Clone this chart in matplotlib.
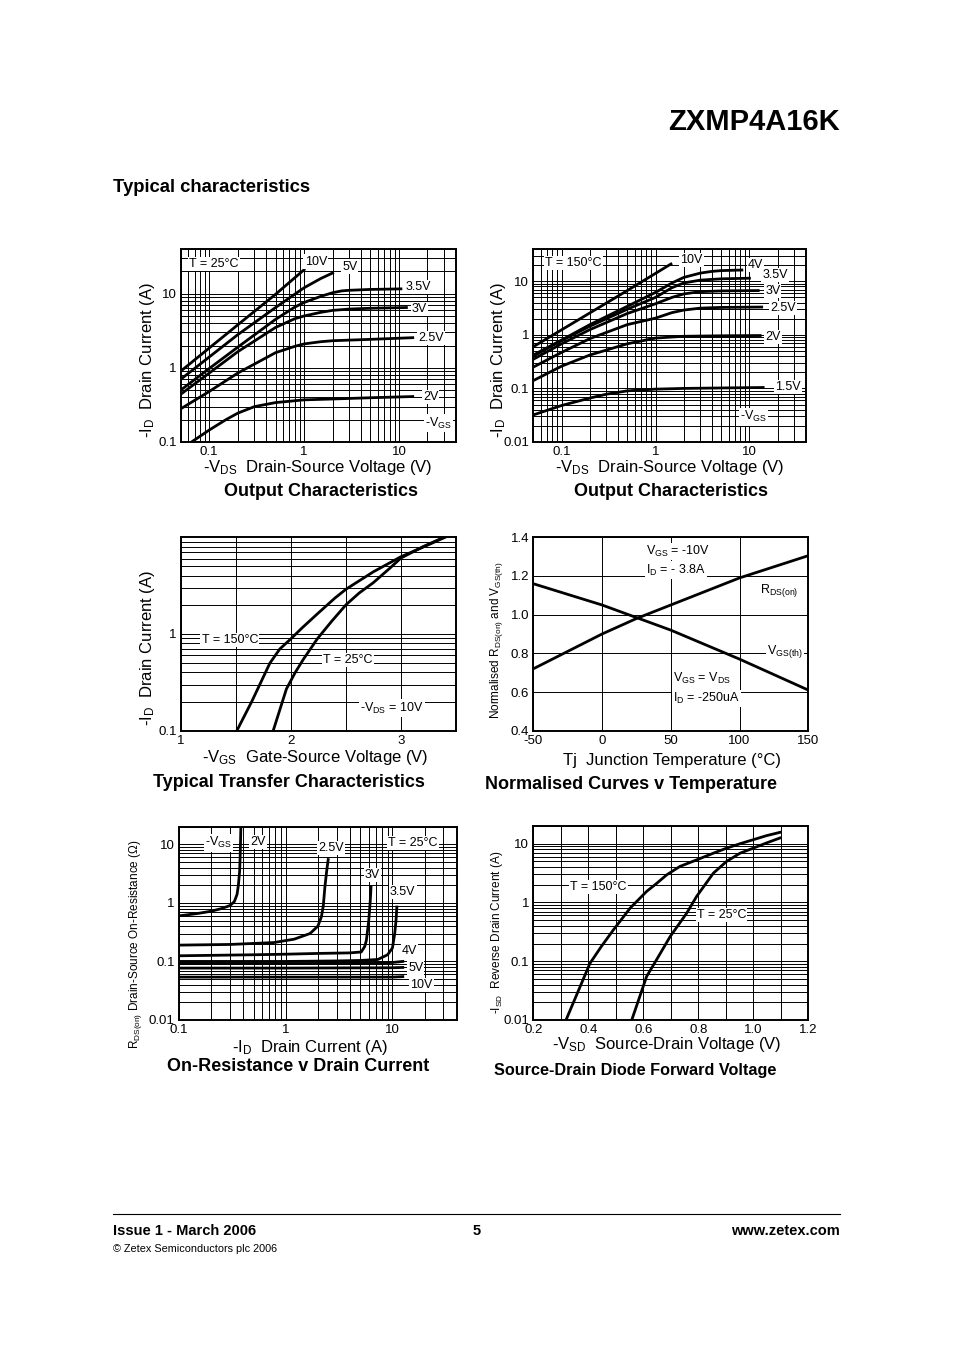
import numpy as np
import matplotlib
matplotlib.use('Agg')
import matplotlib.pyplot as plt
from matplotlib.ticker import LogLocator, NullFormatter
from matplotlib.lines import Line2D

plt.rcParams['font.family'] = ['Liberation Sans', 'DejaVu Sans']
plt.rcParams['mathtext.fontset'] = 'custom'
plt.rcParams['mathtext.rm'] = 'Liberation Sans'
plt.rcParams['mathtext.it'] = 'Liberation Sans:italic'
plt.rcParams['mathtext.bf'] = 'Liberation Sans:bold'

# ---- Output characteristics, T = 25C  (-VDS [V], -ID [A]) ----
out25 = {
    '10V':  ([0.05, 0.1, 0.2, 0.5, 1.0], [0.9, 1.85, 3.8, 9.8, 21]),
    '5V':   ([0.05, 0.1, 0.2, 0.5, 1, 1.5, 2], [0.7, 1.4, 2.8, 6.5, 12, 16, 19]),
    '3.5V': ([0.05, 0.1, 0.2, 0.5, 0.8, 1, 1.5, 2, 2.5, 3, 5, 10.5],
             [0.5, 0.98, 1.9, 4.5, 6.6, 7.6, 9.2, 10.3, 10.9, 11.1, 11.4, 11.6]),
    '3V':   ([0.05, 0.1, 0.2, 0.5, 0.8, 1, 1.5, 2, 3, 5, 12],
             [0.44, 0.85, 1.65, 3.5, 4.6, 5.0, 5.6, 5.95, 6.2, 6.35, 6.5]),
    '2.5V': ([0.05, 0.1, 0.2, 0.5, 0.8, 1, 1.5, 2, 5, 14],
             [0.28, 0.48, 0.85, 1.6, 1.95, 2.1, 2.25, 2.32, 2.42, 2.55]),
    '2V':   ([0.065, 0.1, 0.15, 0.2, 0.3, 0.5, 0.8, 1, 2, 5, 14],
             [0.1, 0.145, 0.2, 0.245, 0.3, 0.34, 0.36, 0.37, 0.38, 0.395, 0.41]),
}

# ---- Output characteristics, T = 150C ----
out150 = {
    '10V':  ([0.05, 0.1, 0.5, 1.46], [0.6, 1.24, 6.7, 21]),
    '4V':   ([0.05, 0.1, 0.2, 0.5, 1, 1.5, 2, 3, 4, 5, 8.3],
             [0.42, 0.8, 1.55, 3.4, 6.2, 9.3, 11.8, 14.2, 15.3, 15.8, 16.2]),
    '3.5V': ([0.05, 0.1, 0.2, 0.5, 1, 1.5, 2, 3, 5, 10],
             [0.40, 0.78, 1.45, 3.0, 5.0, 7.6, 9.3, 10.5, 11.1, 11.4]),
    '3V':   ([0.05, 0.1, 0.2, 0.5, 1, 1.5, 2, 3, 5, 12.4],
             [0.35, 0.68, 1.25, 2.5, 3.8, 5.0, 5.8, 6.4, 6.6, 6.7]),
    '2.5V': ([0.05, 0.1, 0.2, 0.5, 1, 1.5, 2, 3, 5, 13.5],
             [0.25, 0.47, 0.85, 1.55, 2.05, 2.6, 2.9, 3.15, 3.25, 3.3]),
    '2V':   ([0.05, 0.1, 0.2, 0.5, 1, 2, 5, 13],
             [0.14, 0.26, 0.42, 0.68, 0.87, 0.94, 0.96, 0.97]),
    '1.5V': ([0.05, 0.1, 0.2, 0.3, 0.5, 1, 2, 5, 14],
             [0.032, 0.048, 0.066, 0.078, 0.09, 0.097, 0.1, 0.102, 0.104]),
}

# ---- Transfer characteristics (-VGS [V], -ID [A]) ----
vgs_150 = [1.51, 1.645, 1.81, 1.9, 2.0, 2.1, 2.25, 2.4, 2.5, 2.75, 3.0, 3.2, 3.4]
id_150 = [0.1, 0.2, 0.5, 0.7, 0.89, 1.15, 1.65, 2.35, 2.9, 4.4, 6.3, 7.9, 10]
vgs_25 = [1.84, 1.96, 2.04, 2.115, 2.24, 2.37, 2.5, 2.62, 2.75, 2.9, 3.0, 3.2, 3.39]
id_25 = [0.1, 0.27, 0.4, 0.55, 0.89, 1.35, 2.0, 2.65, 3.4, 4.8, 6.1, 8.0, 10]

# ---- Normalised curves v temperature ----
tj = [-50, 0, 25, 50, 100, 150]
rds_norm = [0.72, 0.90, 0.98, 1.05, 1.19, 1.305]
vth_norm = [1.16, 1.05, 0.985, 0.92, 0.77, 0.61]

# ---- On-resistance v drain current (-ID [A], RDS(on) [ohm]) ----
ron = {
    '2V':   ([0.1, 0.15, 0.2, 0.25, 0.3, 0.33, 0.35, 0.36, 0.37, 0.375, 0.38],
             [0.6, 0.66, 0.72, 0.8, 0.9, 1.05, 1.4, 2.0, 3.5, 7, 20]),
    '2.5V': ([0.1, 0.3, 0.77, 1.2, 1.69, 2.0, 2.16, 2.25, 2.33, 2.42, 2.5],
             [0.19, 0.195, 0.21, 0.24, 0.3, 0.4, 0.58, 0.9, 1.9, 3.5, 5.5]),
    '3V':   ([0.1, 0.5, 1, 2, 4, 5.1, 5.5, 5.7, 6.0, 6.2, 6.3],
             [0.125, 0.13, 0.133, 0.137, 0.14, 0.145, 0.18, 0.23, 0.5, 1.1, 1.9]),
    '3.5V': ([0.1, 1, 3, 5, 7.3, 9, 10, 10.5, 10.8, 11],
             [0.1, 0.1, 0.102, 0.104, 0.108, 0.13, 0.17, 0.3, 0.5, 0.85]),
    '4V':   ([0.1, 1, 5, 10, 12.5], [0.092, 0.092, 0.093, 0.096, 0.1]),
    '5V':   ([0.1, 1, 10, 12.5], [0.077, 0.077, 0.078, 0.079]),
    '10V':  ([0.1, 1, 10, 12.5], [0.054, 0.054, 0.054, 0.055]),
}

# ---- Source-drain diode forward voltage (-VSD [V], -ISD [A]) ----
vsd_150 = [0.319, 0.406, 0.448, 0.491, 0.552, 0.612, 0.648, 0.685, 0.733, 0.794,
           0.855, 0.903, 0.952, 1.0, 1.048, 1.097]
isd_150 = [0.01, 0.092, 0.18, 0.34, 0.8, 1.54, 2.1, 2.95, 4.1, 5.3,
           6.9, 8.4, 10, 11.7, 13.7, 15.6]
vsd_25 = [0.558, 0.612, 0.655, 0.697, 0.758, 0.794, 0.855, 0.903, 0.952, 1.0, 1.048, 1.097]
isd_25 = [0.01, 0.055, 0.12, 0.26, 0.66, 1.27, 3.16, 5.0, 6.9, 8.4, 10.3, 12.5]

dec_ticks = [0.01, 0.1, 1, 10]
dec_labels = ['0.01', '0.1', '1', '10']

W, H = 954, 1351
fig = plt.figure(figsize=(W / 100, H / 100), dpi=100)


def make_axes(x0, y0, x1, y1):
    return fig.add_axes([x0 / W, 1 - y1 / H, (x1 - x0) / W, (y1 - y0) / H])


def style(ax, size=9.5):
    for s in ax.spines.values():
        s.set_linewidth(1.4)
    ax.tick_params(which='both', direction='in', length=0, labelsize=size, pad=3)
    ax.grid(True, which='both', color='black', lw=0.7)
    ax.set_axisbelow(True)


def logaxis(axis):
    axis.set_minor_locator(LogLocator(base=10, subs=np.arange(2, 10), numticks=20))
    axis.set_minor_formatter(NullFormatter())


def lab(ax, x, y, s, size=9, **kw):
    ax.text(x, y, s, transform=ax.transAxes, fontsize=size, ha='left', va='center',
            bbox=dict(facecolor='white', edgecolor='none', pad=0.8), zorder=5, **kw)


def axtext(ax, x, y, s, size=12, **kw):
    ax.text(x, y, s, transform=ax.transAxes, fontsize=size, ha='center', va='center', **kw)


def curve(ax, x, y):
    ax.plot(x, y, color='black', lw=2.0, zorder=3)


# ---------- chart 1 ----------
ax1 = make_axes(180.7, 249, 456, 442)
ax1.set_xscale('log'); ax1.set_yscale('log')
ax1.set_xlim(0.05, 40); ax1.set_ylim(0.1, 40)
ax1.set_xticks(dec_ticks[1:], dec_labels[1:])
ax1.set_yticks(dec_ticks[1:], dec_labels[1:])
logaxis(ax1.xaxis); logaxis(ax1.yaxis)
style(ax1)
for k, (x, y) in out25.items():
    curve(ax1, x, y)
lab(ax1, 0.03, 0.922, 'T = 25°C')
for s, px, py in [('10V', 0.45, 0.935), ('5V', 0.586, 0.909), ('3.5V', 0.815, 0.803),
                  ('3V', 0.84, 0.689), ('2.5V', 0.862, 0.539), ('2V', 0.88, 0.233)]:
    lab(ax1, px, py, s)
lab(ax1, 0.887, 0.098, r'-V$_{\mathrm{GS}}$')
axtext(ax1, -0.119, 0.425, r'-I$_{\mathrm{D}}$  Drain Current (A)', rotation=90)
axtext(ax1, 0.499, -0.13, r'-V$_{\mathrm{DS}}$  Drain-Source Voltage (V)')
axtext(ax1, 0.51, -0.259, 'Output Characteristics', size=13, weight='bold')

# ---------- chart 2 ----------
ax2 = make_axes(533.3, 249, 806, 442)
ax2.set_xscale('log'); ax2.set_yscale('log')
ax2.set_xlim(0.05, 40); ax2.set_ylim(0.01, 40)
ax2.set_xticks(dec_ticks[1:], dec_labels[1:])
ax2.set_yticks(dec_ticks, dec_labels)
logaxis(ax2.xaxis); logaxis(ax2.yaxis)
style(ax2)
for k, (x, y) in out150.items():
    curve(ax2, x, y)
lab(ax2, 0.043, 0.927, 'T = 150°C')
for s, px, py in [('10V', 0.538, 0.943), ('4V', 0.787, 0.917), ('3.5V', 0.839, 0.865),
                  ('3V', 0.85, 0.782), ('2.5V', 0.868, 0.694), ('2V', 0.85, 0.544),
                  ('1.5V', 0.887, 0.285)]:
    lab(ax2, px, py, s)
lab(ax2, 0.758, 0.13, r'-V$_{\mathrm{GS}}$')
axtext(ax2, -0.129, 0.425, r'-I$_{\mathrm{D}}$  Drain Current (A)', rotation=90)
axtext(ax2, 0.501, -0.13, r'-V$_{\mathrm{DS}}$  Drain-Source Voltage (V)')
axtext(ax2, 0.506, -0.259, 'Output Characteristics', size=13, weight='bold')

# ---------- chart 3 ----------
ax3 = make_axes(180.7, 537.3, 456, 730.7)
ax3.set_yscale('log')
ax3.set_xlim(1, 3.5); ax3.set_ylim(0.1, 10)
ax3.set_xticks([1, 2, 3], ['1', '2', '3'])
ax3.set_xticks([1.5, 2.5], minor=True)
ax3.set_yticks([0.1, 1], ['0.1', '1'])
logaxis(ax3.yaxis)
style(ax3)
curve(ax3, vgs_150, id_150)
curve(ax3, vgs_25, id_25)
lab(ax3, 0.076, 0.469, 'T = 150°C')
lab(ax3, 0.517, 0.365, 'T = 25°C')
lab(ax3, 0.651, 0.117, r'-V$_{\mathrm{DS}}$ = 10V')
axtext(ax3, -0.119, 0.43, r'-I$_{\mathrm{D}}$  Drain Current (A)', rotation=90)
axtext(ax3, 0.49, -0.141, r'-V$_{\mathrm{GS}}$  Gate-Source Voltage (V)')
axtext(ax3, 0.394, -0.27, 'Typical Transfer Characteristics', size=13, weight='bold')

# ---------- chart 4 ----------
ax4 = make_axes(533.3, 537.3, 808.3, 730.7)
ax4.set_xlim(-50, 150); ax4.set_ylim(0.4, 1.4)
ax4.set_xticks([-50, 0, 50, 100, 150], ['-50', '0', '50', '100', '150'])
ax4.set_yticks([0.4, 0.6, 0.8, 1.0, 1.2, 1.4], ['0.4', '0.6', '0.8', '1.0', '1.2', '1.4'])
style(ax4, size=9.5)
curve(ax4, tj, rds_norm)
curve(ax4, tj, vth_norm)
lab(ax4, 0.41, 0.926, r'V$_{\mathrm{GS}}$ = -10V')
lab(ax4, 0.41, 0.831, r'I$_{\mathrm{D}}$ = - 3.8A')
lab(ax4, 0.824, 0.727, r'R$_{\mathrm{DS(on)}}$')
lab(ax4, 0.849, 0.408, r'V$_{\mathrm{GS(th)}}$')
lab(ax4, 0.509, 0.271, r'V$_{\mathrm{GS}}$ = V$_{\mathrm{DS}}$')
lab(ax4, 0.509, 0.168, r'I$_{\mathrm{D}}$ = -250uA')
axtext(ax4, -0.132, 0.469, r'Normalised R$_{\mathrm{DS(on)}}$ and V$_{\mathrm{GS(th)}}$',
       size=8.5, rotation=90)
axtext(ax4, 0.503, -0.152, 'Tj  Junction Temperature (°C)')
axtext(ax4, 0.355, -0.276, 'Normalised Curves v Temperature', size=13, weight='bold')

# ---------- chart 5 ----------
ax5 = make_axes(179, 826.7, 456.7, 1020)
ax5.set_xscale('log'); ax5.set_yscale('log')
ax5.set_xlim(0.1, 40); ax5.set_ylim(0.01, 20)
ax5.set_xticks(dec_ticks[1:], dec_labels[1:])
ax5.set_yticks(dec_ticks, dec_labels)
logaxis(ax5.xaxis); logaxis(ax5.yaxis)
style(ax5, size=9.5)
for k, (x, y) in ron.items():
    curve(ax5, x, y)
lab(ax5, 0.094, 0.916, r'-V$_{\mathrm{GS}}$')
for s, px, py in [('2V', 0.256, 0.921), ('2.5V', 0.50, 0.89), ('3V', 0.67, 0.75),
                  ('3.5V', 0.76, 0.662), ('4V', 0.803, 0.357), ('5V', 0.825, 0.269),
                  ('10V', 0.832, 0.181)]:
    lab(ax5, px, py, s)
lab(ax5, 0.753, 0.916, 'T = 25°C')
axtext(ax5, -0.158, 0.393, r'R$_{\mathrm{DS(on)}}$ Drain-Source On-Resistance (Ω)',
       size=8.5, rotation=90)
axtext(ax5, 0.472, -0.14, r'-I$_{\mathrm{D}}$  Drain Current (A)')
axtext(ax5, 0.428, -0.243, 'On-Resistance v Drain Current', size=13, weight='bold')

# ---------- chart 6 ----------
ax6 = make_axes(533.3, 826, 808.3, 1020)
ax6.set_yscale('log')
ax6.set_xlim(0.2, 1.2); ax6.set_ylim(0.01, 20)
ax6.set_xticks([0.2, 0.4, 0.6, 0.8, 1.0, 1.2], ['0.2', '0.4', '0.6', '0.8', '1.0', '1.2'])
ax6.set_xticks([0.3, 0.5, 0.7, 0.9, 1.1], minor=True)
ax6.set_yticks(dec_ticks, dec_labels)
logaxis(ax6.yaxis)
style(ax6, size=9.5)
curve(ax6, vsd_150, isd_150)
curve(ax6, vsd_25, isd_25)
lab(ax6, 0.134, 0.687, 'T = 150°C')
lab(ax6, 0.594, 0.541, 'T = 25°C')
axtext(ax6, -0.132, 0.454, r'-I$_{\mathrm{SD}}$  Reverse Drain Current (A)',
       size=8.5, rotation=90)
axtext(ax6, 0.485, -0.124, r'-V$_{\mathrm{SD}}$  Source-Drain Voltage (V)')
axtext(ax6, 0.37, -0.258, 'Source-Drain Diode Forward Voltage', size=11.7, weight='bold')

# ---------- page text ----------
fig.text(840 / W, 1 - 122 / H, 'ZXMP4A16K', ha='right', va='center',
         fontsize=21, weight='bold')
fig.text(113 / W, 1 - 188 / H, 'Typical characteristics', ha='left', va='center',
         fontsize=13.3, weight='bold')
fig.add_artist(Line2D([113 / W, 840 / W], [1 - 1214 / H] * 2, color='black', lw=0.8))
fig.text(113 / W, 1 - 1231 / H, 'Issue 1 - March 2006', ha='left', va='center',
         fontsize=10.5, weight='bold')
fig.text(477 / W, 1 - 1231 / H, '5', ha='center', va='center', fontsize=10.5, weight='bold')
fig.text(840 / W, 1 - 1231 / H, 'www.zetex.com', ha='right', va='center',
         fontsize=10.5, weight='bold')
fig.text(113 / W, 1 - 1249 / H, '© Zetex Semiconductors plc 2006', ha='left', va='center',
         fontsize=7.8)

fig.savefig('out.png', dpi=100)
